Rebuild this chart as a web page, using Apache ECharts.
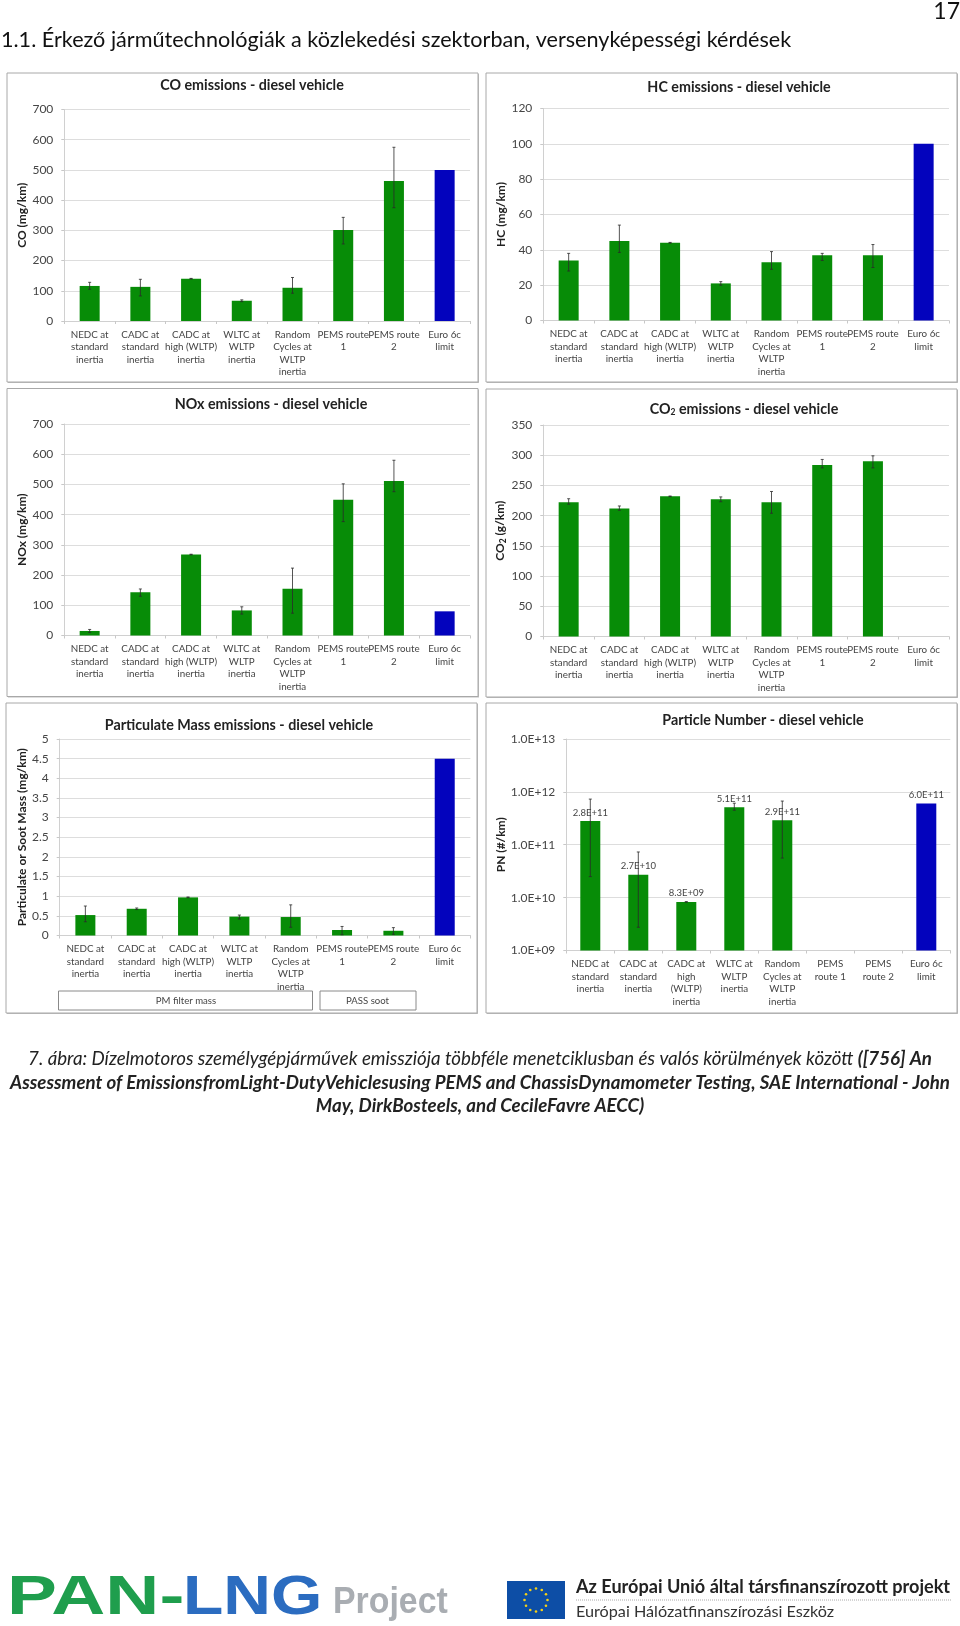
<!DOCTYPE html>
<html><head><meta charset="utf-8">
<style>html,body{margin:0;padding:0;background:#fff}#c{width:960px;height:1626px}</style>
<script src="https://cdn.jsdelivr.net/npm/echarts@6/dist/echarts.min.js"></script>
</head><body><div id="c"></div>
<script>
var categories = ['NEDC at\nstandard\ninertia','CADC at\nstandard\ninertia','CADC at\nhigh (WLTP)\ninertia','WLTC at\nWLTP\ninertia','Random\nCycles at\nWLTP\ninertia','PEMS route\n1','PEMS route\n2','Euro 6c\nlimit'];
var categoriesPN = ['NEDC at\nstandard\ninertia','CADC at\nstandard\ninertia','CADC at\nhigh\n(WLTP)\ninertia','WLTC at\nWLTP\ninertia','Random\nCycles at\nWLTP\ninertia','PEMS\nroute 1','PEMS\nroute 2','Euro 6c\nlimit'];

var coValues = [116,113,140,67,110,301,463,500];
var coLow    = [105,83,139,64,92,255,375,null];
var coHigh   = [128,138,141,70,144,343,575,null];

var hcValues = [34,45,44,21,33,37,37,100];
var hcLow    = [28,38.5,43.8,20,29,34,30,null];
var hcHigh   = [38,54,44.2,22,39,38,43,null];

var noxValues = [15,143,268,83,155,449,511,80];
var noxLow    = [10,130,267,71,74,377,476,null];
var noxHigh   = [20,154,269,95,223,502,580,null];

var co2Values = [222,212,232,227,222,284,290,null];
var co2Low    = [219,209,231.5,223,204,279,279,null];
var co2High   = [228,216,232.5,231,240,293,299,null];

var pmValues = [0.52,0.68,0.97,0.48,0.47,0.14,0.12,4.5];
var pmLow    = [0.35,0.66,0.96,0.42,0.21,0.02,0.03,null];
var pmHigh   = [0.75,0.70,0.98,0.52,0.78,0.23,0.20,null];

var pnValues = [2.8e11,2.7e10,8.3e9,5.1e11,2.9e11,null,null,6.0e11];
var pnLow    = [2.5e10,2.75e9,8.2e9,4.5e11,5.6e10,null,null,null];
var pnHigh   = [7.3e11,7.3e10,8.4e9,6.1e11,6.7e11,null,null,null];

var FONT = 'Lato, "Liberation Sans", sans-serif';
var GREEN = '#078c07', BLUE = '#0303bd', GRIDC = '#dddddd', TXT = '#454545';

var panels = [
 {title:'CO emissions - diesel vehicle', tx:252, ty:85, name:'CO (mg/km)', gap:29, cats:categories, v:coValues, lo:coLow, hi:coHigh, box:[64.3,109.5,405.7,211.5], min:0, max:700, interval:100},
 {title:'HC emissions - diesel vehicle', tx:739, ty:87, name:'HC (mg/km)', gap:29, cats:categories, v:hcValues, lo:hcLow, hi:hcHigh, box:[543.3,108.5,405.7,212], min:0, max:120, interval:20},
 {title:'NOx emissions - diesel vehicle', tx:271, ty:404, name:'NOx (mg/km)', gap:29, cats:categories, v:noxValues, lo:noxLow, hi:noxHigh, box:[64.3,424,405.7,211.5], min:0, max:700, interval:100},
 {title:'CO{s|2} emissions - diesel vehicle', tx:744, ty:408, name:'CO{s|2} (g/km)', gap:29, cats:categories, v:co2Values, lo:co2Low, hi:co2High, box:[543.3,425,405.7,211.5], min:0, max:350, interval:50},
 {title:'Particulate Mass emissions - diesel vehicle', tx:239, ty:725, name:'Particulate or Soot Mass (mg/km)', gap:28, cats:categories, v:pmValues, lo:pmLow, hi:pmHigh, box:[59.7,739,410.7,196.5], min:0, max:5, interval:0.5},
 {title:'Particle Number - diesel vehicle', tx:763, ty:720, name:'PN (#/km)', gap:51, cats:categoriesPN, v:pnValues, lo:pnLow, hi:pnHigh, box:[566.3,739,384,211.5], log:true, min:1e9, max:1e13}
];
var frames = [[7,73,471,309],[486,73,471,309],[7,388.5,471,308],[486,389,471,308],[6,703,471,310],[486,703,471,310]];

function fmtExp(v){
  var p = Number(v).toExponential(1).toUpperCase().split('E+');
  return p[0] + 'E+' + (p[1].length < 2 ? '0' + p[1] : p[1]);
}
function fmtY(v){ return String(v); }

var option = {animation:false, backgroundColor:'#fff', title:[], grid:[], xAxis:[], yAxis:[], series:[]};
var subRich = {s:{fontFamily:FONT,fontSize:8.5,fontWeight:'bold',color:'#222',verticalAlign:'bottom',padding:[6,0,0,0]}};

panels.forEach(function(p,i){
  option.title.push({text:p.title, left:p.tx, top:p.ty-6.5, padding:0, textAlign:'center',
    textStyle:{fontFamily:FONT,fontSize:14.3,fontWeight:'bold',color:'#222',rich:subRich}});
  option.grid.push({left:p.box[0],top:p.box[1],width:p.box[2],height:p.box[3],containLabel:false});
  option.xAxis.push({type:'category',gridIndex:i,data:p.cats,
    axisLine:{lineStyle:{color:'#d0d0d0'}},axisTick:{show:true,length:3,lineStyle:{color:'#c8c8c8'}},
    axisLabel:{interval:0,hideOverlap:false,margin:7.5,fontFamily:FONT,fontSize:9.8,lineHeight:12.5,color:TXT}});
  var y = {gridIndex:i,min:p.min,max:p.max,name:p.name,nameLocation:'middle',nameGap:p.gap,
    nameTextStyle:{fontFamily:FONT,fontSize:12,fontWeight:'bold',color:'#222',rich:subRich},
    axisLine:{show:true,lineStyle:{color:'#d0d0d0'}},axisTick:{show:true,length:3,lineStyle:{color:'#c8c8c8'}},
    splitLine:{show:true,lineStyle:{color:GRIDC,width:1}},
    axisLabel:{fontFamily:FONT,fontSize:12,color:TXT,margin:11,showMinLabel:true,showMaxLabel:true}};
  if(p.log){ y.type='log'; y.logBase=10; y.axisLabel.formatter=fmtExp; }
  else { y.type='value'; y.interval=p.interval; y.axisLabel.formatter=fmtY; }
  option.yAxis.push(y);
  option.series.push({type:'bar',xAxisIndex:i,yAxisIndex:i,barWidth:20,data:p.v,
    itemStyle:{color:function(d){return d.dataIndex===7?BLUE:GREEN;}},
    label:p.log?{show:true,position:'top',distance:3.5,formatter:function(d){return fmtExp(d.value);},fontFamily:FONT,fontSize:9.5,color:TXT}:{show:false}});
  var errData = p.v.map(function(_,k){return [k,p.lo[k],p.hi[k]];}).filter(function(d){return d[1]!=null;});
  option.series.push({type:'custom',xAxisIndex:i,yAxisIndex:i,z:5,silent:true,data:errData,
    encode:{x:0,y:[1,2]},
    renderItem:function(params,api){
      var a=api.coord([api.value(0),api.value(1)]), b=api.coord([api.value(0),api.value(2)]);
      var st={stroke:'#2a2a2a',lineWidth:1,opacity:0.8};
      return {type:'group',children:[
        {type:'line',shape:{x1:a[0],y1:a[1],x2:b[0],y2:b[1]},style:st},
        {type:'line',shape:{x1:a[0]-1.5,y1:a[1],x2:a[0]+1.5,y2:a[1]},style:st},
        {type:'line',shape:{x1:b[0]-1.5,y1:b[1],x2:b[0]+1.5,y2:b[1]},style:st}
      ]};
    }});
});

var g = [];
frames.forEach(function(f){
  g.push({type:'rect',z:-10,shape:{x:f[0]+1,y:f[1]+1,width:f[2],height:f[3]},style:{fill:'#bdbdbd'}});
  g.push({type:'rect',z:-9,shape:{x:f[0],y:f[1],width:f[2],height:f[3]},style:{fill:'#fff',stroke:'#a8a8a8',lineWidth:1}});
});
function txt(x,y,text,size,o){
  o=o||{};
  var st={x:x,y:y,text:text,fontFamily:o.font||FONT,fontSize:size,fontWeight:o.weight||'normal',fontStyle:o.style||'normal',
    fill:o.fill||'#222',textAlign:o.align||'left',textVerticalAlign:'middle'};
  if(o.rich) st.rich=o.rich;
  var e={type:'text',z:10,style:st};
  if(o.scaleX){e.scaleX=o.scaleX;e.originX=x;e.originY=y;}
  return e;
}
// PM boxes
g.push({type:'rect',z:9,shape:{x:58.5,y:991,width:254,height:19},style:{fill:'#fff',stroke:'#8a8a8a',lineWidth:1}});
g.push({type:'rect',z:9,shape:{x:320,y:991,width:96,height:19},style:{fill:'#fff',stroke:'#8a8a8a',lineWidth:1}});
g.push(txt(186,1001,'PM filter mass',9.6,{align:'center',fill:TXT}));
g.push(txt(367.5,1001,'PASS soot',9.6,{align:'center',fill:TXT}));
// Header
g.push(txt(1,40,'1.1. Érkező járműtechnológiák a közlekedési szektorban, versenyképességi kérdések',21.6,{fill:'#111'}));
g.push(txt(960,12,'17',23,{align:'right',fill:'#111'}));
// Caption
var CAP=18.7;
var capRich={a:{fontFamily:FONT,fontSize:CAP,fontStyle:'italic',color:'#111'},b:{fontFamily:FONT,fontSize:CAP,fontStyle:'italic',fontWeight:'bold',color:'#111'}};
g.push(txt(480,1059,'{a|7. ábra: Dízelmotoros személygépjárművek emissziója többféle menetciklusban és valós körülmények között }{b|([756] An}',CAP,{align:'center',rich:capRich}));
g.push(txt(480,1082.5,'{b|Assessment of EmissionsfromLight-DutyVehiclesusing PEMS and ChassisDynamometer Testing, SAE International - John}',CAP,{align:'center',rich:capRich}));
g.push(txt(480,1106,'{b|May, DirkBosteels, and CecileFavre AECC)}',CAP,{align:'center',rich:capRich}));
// Footer logo
var LOGOF='"Liberation Sans", sans-serif';
g.push(txt(7,1599,'PAN-',55,{font:LOGOF,weight:'bold',fill:'#1f9e4d',scaleX:1.36}));
g.push(txt(183,1599,'LNG',55,{font:LOGOF,weight:'bold',fill:'#2b6cc0',scaleX:1.2}));
g.push(txt(333,1603,'Project',36,{font:LOGOF,weight:'bold',fill:'#a9adb2',scaleX:0.94}));
g.push({type:'rect',z:10,shape:{x:507,y:1581,width:58,height:38},style:{fill:'#0d4ea6'}});
for(var s=0;s<12;s++){
  var ang=s*Math.PI/6;
  g.push({type:'circle',z:11,shape:{cx:536+11.5*Math.cos(ang),cy:1600+11.5*Math.sin(ang),r:1.3},style:{fill:'#f7d117'}});
}
g.push(txt(576,1587.5,'Az Európai Unió által társfinanszírozott projekt',18.1,{font:FONT,weight:'bold',fill:'#222'}));
g.push({type:'line',z:10,shape:{x1:576,y1:1600,x2:952,y2:1600},style:{stroke:'#aaa',lineWidth:1,lineDash:[1,1]}});
g.push(txt(576,1611.5,'Európai Hálózatfinanszírozási Eszköz',16.2,{font:FONT,fill:'#333'}));
option.graphic={elements:g};

var chart=echarts.init(document.getElementById('c'),null,{renderer:'canvas',width:960,height:1626});
chart.setOption(option);
</script></body></html>
